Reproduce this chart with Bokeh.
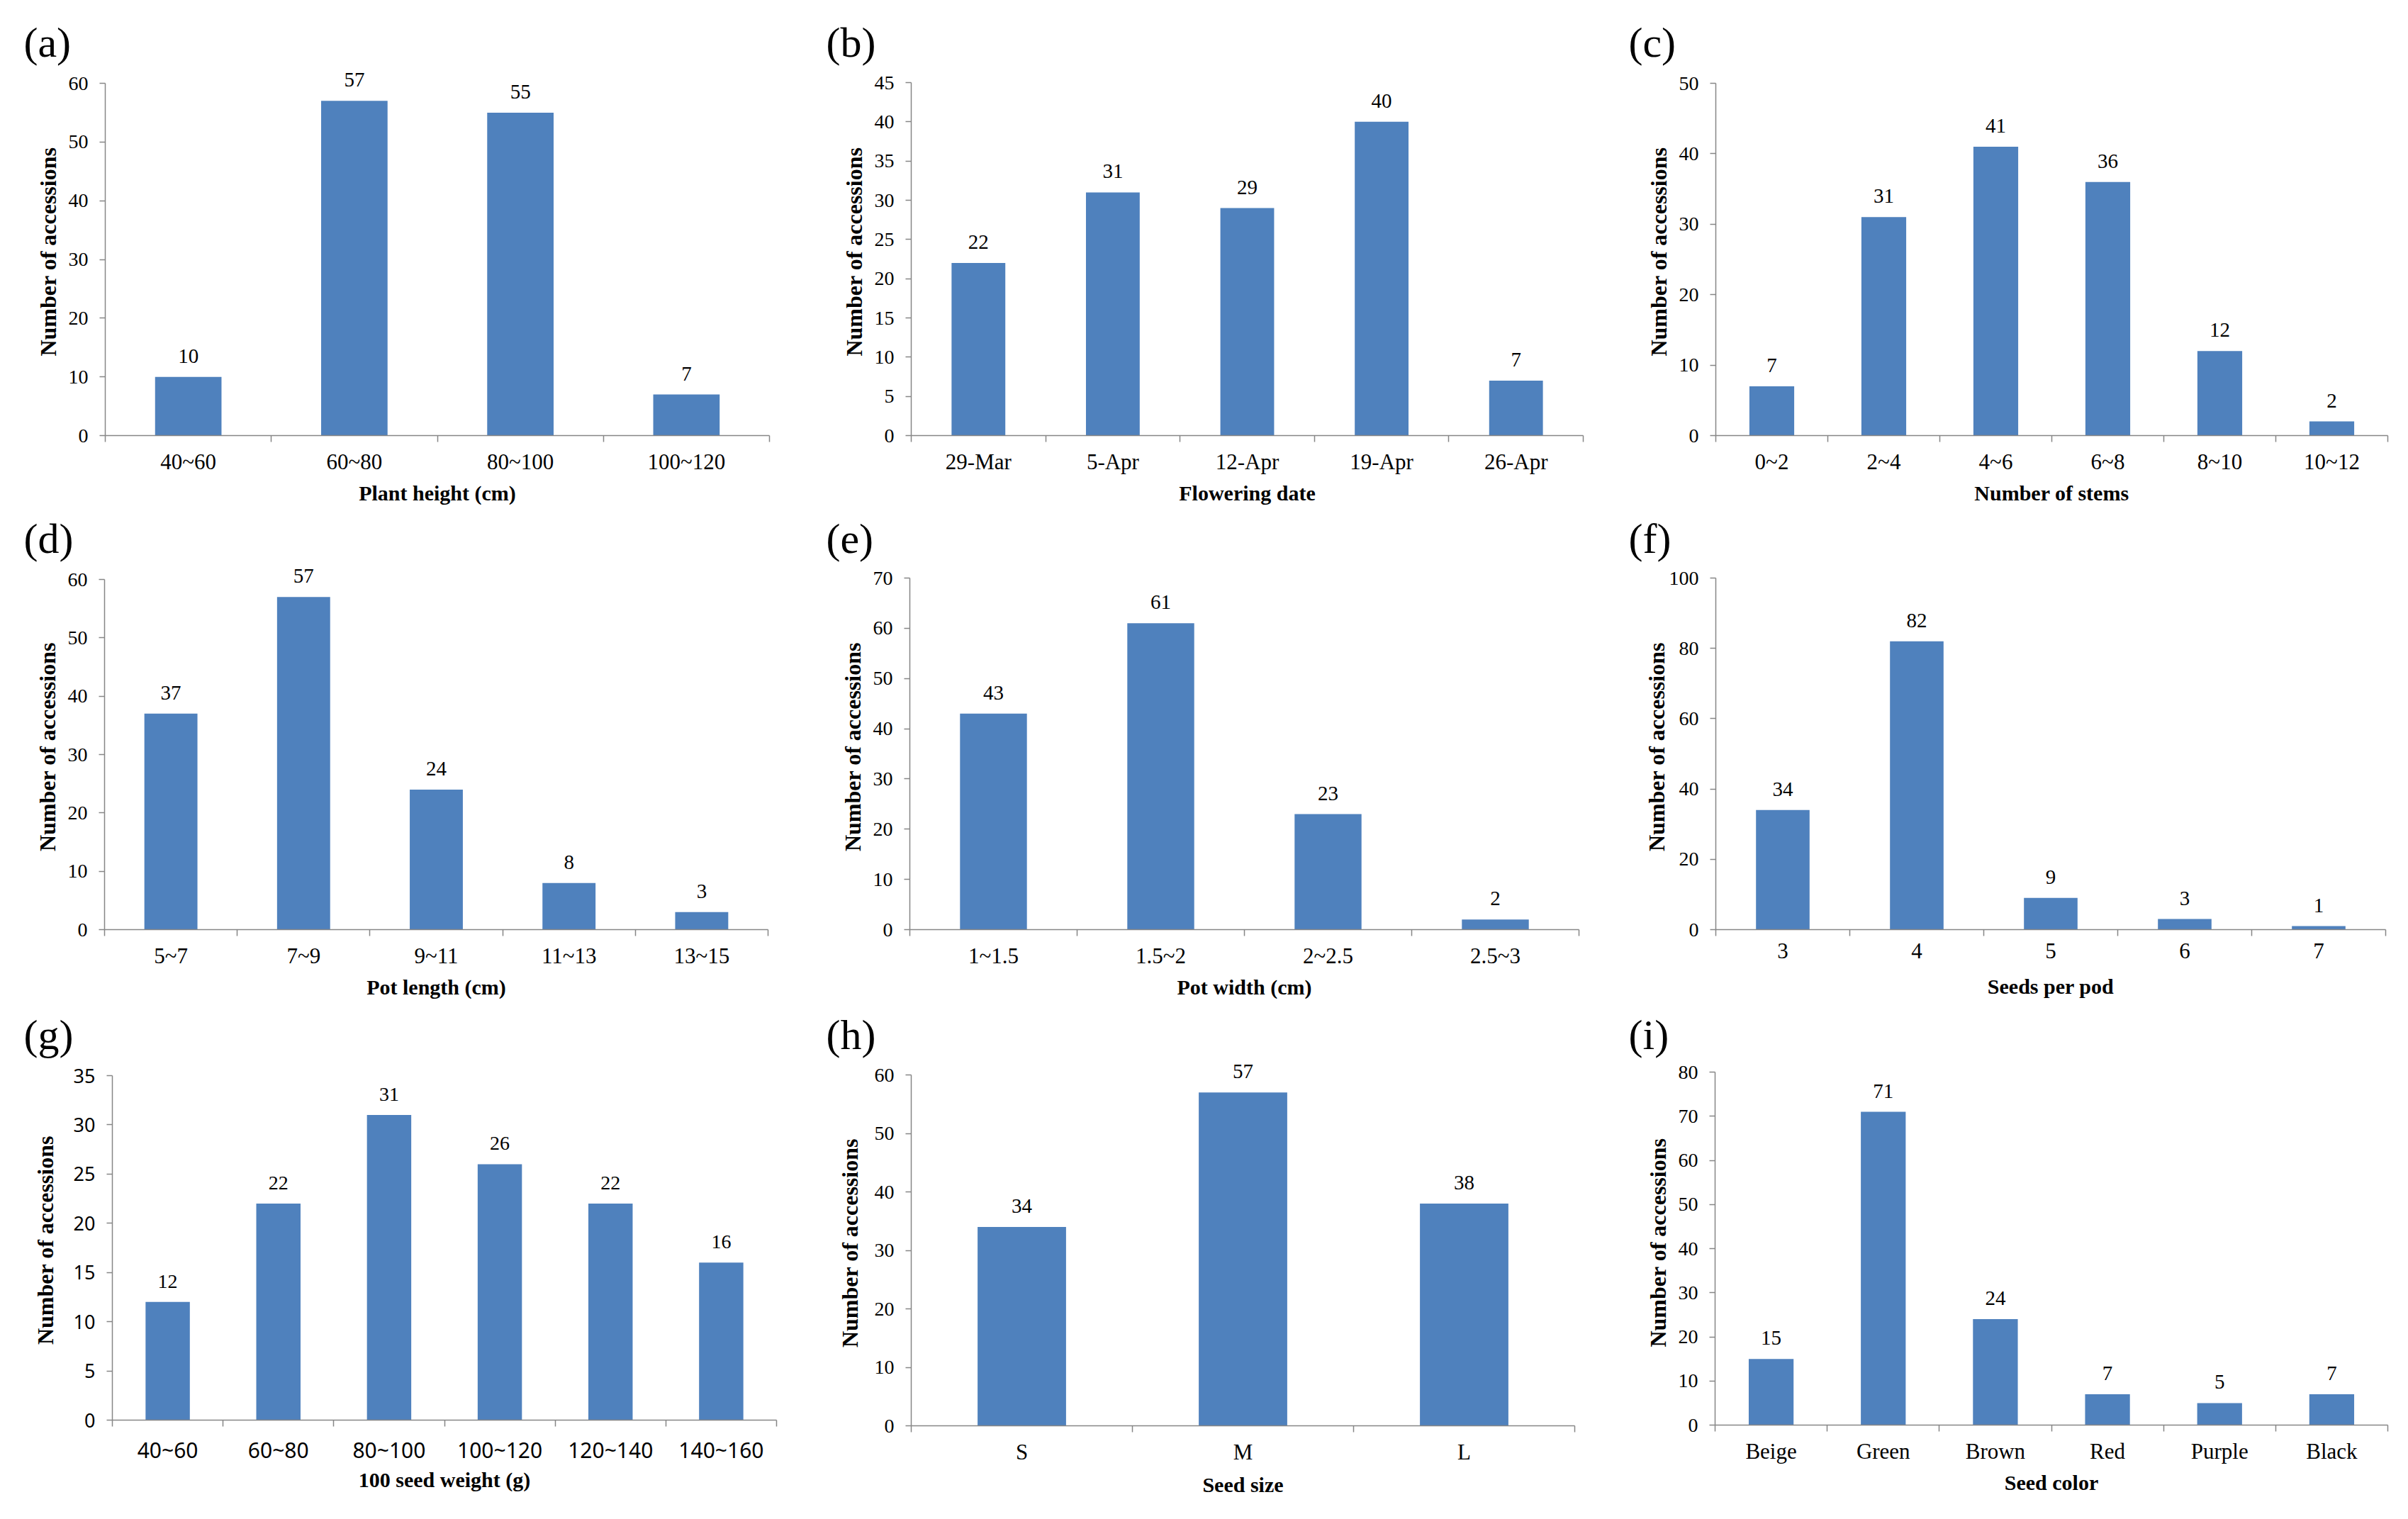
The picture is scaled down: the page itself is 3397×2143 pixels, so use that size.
from bokeh.plotting import figure
from bokeh.layouts import column, row
from bokeh.models import Range1d, FixedTicker, LabelSet, ColumnDataSource
from bokeh.embed import file_html
from bokeh.resources import INLINE

# ---------------- data ----------------
a_cats = ["40~60", "60~80", "80~100", "100~120"]
a_vals = [10, 57, 55, 7]
b_cats = ["29-Mar", "5-Apr", "12-Apr", "19-Apr", "26-Apr"]
b_vals = [22, 31, 29, 40, 7]
c_cats = ["0~2", "2~4", "4~6", "6~8", "8~10", "10~12"]
c_vals = [7, 31, 41, 36, 12, 2]
d_cats = ["5~7", "7~9", "9~11", "11~13", "13~15"]
d_vals = [37, 57, 24, 8, 3]
e_cats = ["1~1.5", "1.5~2", "2~2.5", "2.5~3"]
e_vals = [43, 61, 23, 2]
f_cats = ["3", "4", "5", "6", "7"]
f_vals = [34, 82, 9, 3, 1]
g_cats = ["40~60", "60~80", "80~100", "100~120", "120~140", "140~160"]
g_vals = [12, 22, 31, 26, 22, 16]
h_cats = ["S", "M", "L"]
h_vals = [34, 57, 38]
i_cats = ["Beige", "Green", "Brown", "Red", "Purple", "Black"]
i_vals = [15, 71, 24, 7, 5, 7]

y_title = "Number of accessions"
x_titles = ["Plant height (cm)", "Flowering date", "Number of stems",
            "Pot length (cm)", "Pot width (cm)", "Seeds per pod",
            "100 seed weight (g)", "Seed size", "Seed color"]
tags = ["(a)", "(b)", "(c)", "(d)", "(e)", "(f)", "(g)", "(h)", "(i)"]
y_max = [60, 45, 50, 60, 70, 100, 35, 60, 80]
y_step = [10, 5, 10, 10, 10, 20, 5, 10, 10]

cats_all = [a_cats, b_cats, c_cats, d_cats, e_cats, f_cats, g_cats, h_cats, i_cats]
vals_all = [a_vals, b_vals, c_vals, d_vals, e_vals, f_vals, g_vals, h_vals, i_vals]

# ---------------- layout (absolute axis boxes: left, right, top tick, zero line) ----------------
frames = [
    (148, 1085, 117, 614), (1285, 2233, 116, 614), (2420, 3368, 117, 614),
    (147, 1083, 817, 1311), (1283, 2227, 815, 1311), (2420, 3365, 815, 1311),
    (158, 1095, 1517, 2003), (1285, 2221, 1516, 2011), (2419, 3368, 1512, 2010),
]
col_bounds = [(0, 1132), (1132, 2264), (2264, 3397)]
row_bounds = [(0, 715), (715, 1415), (1415, 2143)]
EXT = 22  # extra px of frame above the top tick so value labels are not clipped
# small per-panel nudges of the axis titles (px of standoff)
ytitle_standoff = [8, 8, 8, 8, 8, -3, 19, 14, 8]
xtitle_standoff = [7, 7, 7, 7, 7, 20, 2, 9, 7]

BAR = "#4F81BD"
AXIS = "#868686"
SERIF = "Liberation Serif"
SANS = "Noto Sans"

figs = []
for k in range(9):
    r, c = divmod(k, 3)
    L, R, T, B = frames[k]
    cx0, cx1 = col_bounds[c]
    ry0, ry1 = row_bounds[r]
    row_ks = [3 * r + j for j in range(3)]
    FT = max(frames[j][2] for j in row_ks) - EXT      # frames in a row share top border
    bb = min(ry1 - frames[j][3] for j in row_ks)      # common bottom border
    height = (B - ry0) + bb
    top_border = FT - ry0
    cats = cats_all[k]
    vals = vals_all[k]
    n = len(cats)
    sans = (k == 6)
    tick_font = SANS if sans else SERIF
    scale = (B - T) / y_max[k]
    y_end = y_max[k] + (T - FT) / scale

    p = figure(width=cx1 - cx0, height=height,
               x_range=Range1d(0, n), y_range=Range1d(0, y_end),
               min_border_left=L - cx0, min_border_right=cx1 - R,
               min_border_top=top_border, min_border_bottom=bb,
               toolbar_location=None, output_backend="svg",
               title=tags[k])
    p.outline_line_color = None
    p.grid.visible = False
    p.background_fill_color = "white"
    p.border_fill_color = "white"

    p.title.text_font = SERIF
    p.title.text_font_size = "60px"
    p.title.text_font_style = "normal"
    p.title.text_color = "black"
    p.title.align = "left"
    p.title.offset = -(L - cx0) + 33
    p.title.standoff = 6

    xs = [i + 0.5 for i in range(n)]
    src = ColumnDataSource(dict(x=xs, top=vals, lbl=[str(v) for v in vals]))
    p.vbar(x="x", top="top", width=0.4, source=src, fill_color=BAR, line_color=None)

    labels = LabelSet(x="x", y="top", text="lbl", source=src, y_offset=20,
                      text_align="center", text_baseline="alphabetic",
                      text_font=tick_font, text_font_size="29px" if not sans else "28px",
                      text_color="black")
    p.add_layout(labels)

    # x axis: labels at centers, tick marks at category boundaries
    xa = p.xaxis[0]
    xa.ticker = FixedTicker(ticks=xs, minor_ticks=list(range(n + 1)))
    xa.major_label_overrides = {x: cat for x, cat in zip(xs, cats)}
    xa.major_tick_out = 0
    xa.major_tick_in = 0
    xa.minor_tick_out = 9
    xa.minor_tick_in = 0
    xa.minor_tick_line_color = AXIS
    xa.minor_tick_line_width = 1.5
    xa.axis_line_color = AXIS
    xa.axis_line_width = 1.5
    xa.major_label_text_font = tick_font
    xa.major_label_text_font_size = "31px" if not sans else "30px"
    xa.major_label_text_color = "black"
    xa.major_label_standoff = 10 if not sans else 12
    xa.axis_label = x_titles[k]
    xa.axis_label_text_font = SERIF
    xa.axis_label_text_font_style = "bold"
    xa.axis_label_text_font_size = "30px"
    xa.axis_label_text_color = "black"
    xa.axis_label_standoff = xtitle_standoff[k]

    ya = p.yaxis[0]
    ya.ticker = FixedTicker(ticks=list(range(0, y_max[k] + 1, y_step[k])), minor_ticks=[])
    ya.bounds = (0, y_max[k])
    ya.major_tick_out = 8
    ya.major_tick_in = 0
    ya.major_tick_line_color = AXIS
    ya.major_tick_line_width = 1.5
    ya.minor_tick_line_color = None
    ya.axis_line_color = AXIS
    ya.axis_line_width = 1.5
    ya.major_label_text_font = tick_font
    ya.major_label_text_font_size = "28px" if not sans else "27px"
    ya.major_label_text_color = "black"
    ya.major_label_standoff = 16
    ya.axis_label = y_title
    ya.axis_label_text_font = SERIF
    ya.axis_label_text_font_style = "bold"
    ya.axis_label_text_font_size = "32px"
    ya.axis_label_text_color = "black"
    ya.axis_label_standoff = ytitle_standoff[k]

    figs.append(p)

layout = column(row(figs[0], figs[1], figs[2]),
                row(figs[3], figs[4], figs[5]),
                row(figs[6], figs[7], figs[8]))

open("out.html", "w").write(file_html(layout, INLINE))
